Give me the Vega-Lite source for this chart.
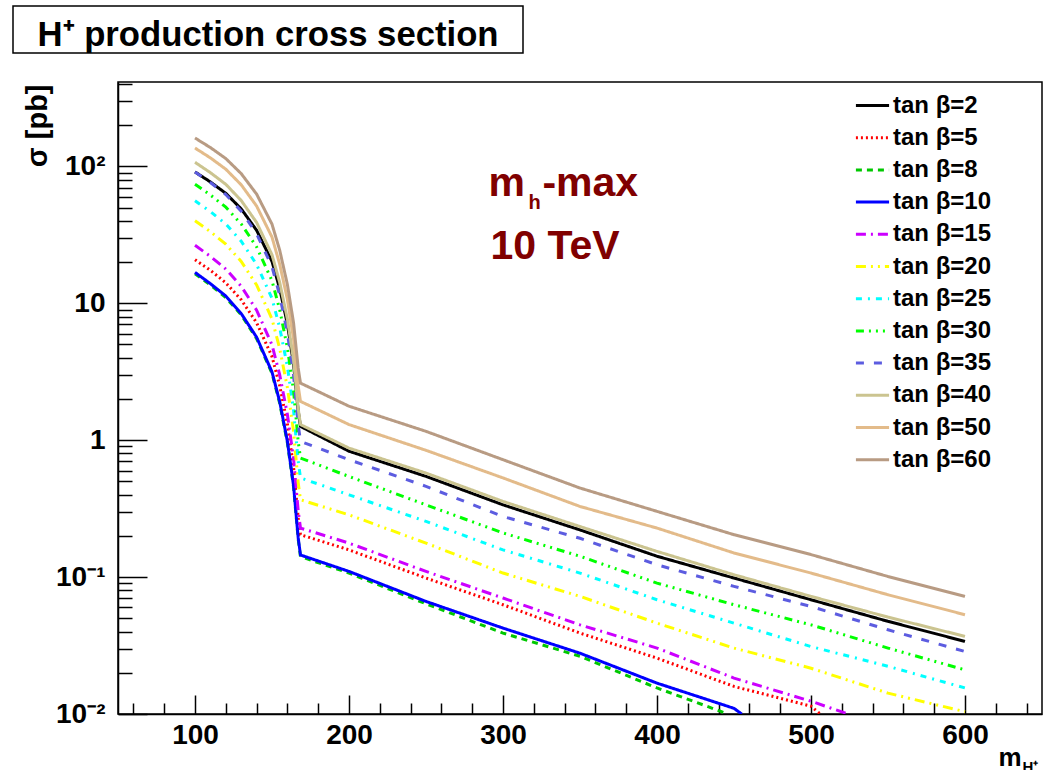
{
  "$schema": "https://vega.github.io/schema/vega-lite/v6.json",
  "padding": {"left": 12, "top": 5, "right": 0, "bottom": 0},
  "background": "white",
  "spacing": 27,
  "columns": 1,
  "resolve": {"legend": {"color": "independent", "strokeDash": "independent"}},
  "config": {
    "view": {"stroke": "black", "strokeWidth": 1.5},
    "font": "Liberation Sans"
  },
  "datasets": {
    "curves": [
      {"s":"tan β=2","m":100,"v":91},{"s":"tan β=2","m":110,"v":76.9},{"s":"tan β=2","m":120,"v":63.5},{"s":"tan β=2","m":130,"v":48.9},{"s":"tan β=2","m":140,"v":34.1},{"s":"tan β=2","m":150,"v":20.2},{"s":"tan β=2","m":155,"v":12.8},{"s":"tan β=2","m":160,"v":7.05},{"s":"tan β=2","m":164,"v":3.61},{"s":"tan β=2","m":167,"v":1.64},{"s":"tan β=2","m":168.5,"v":1.26},{"s":"tan β=2","m":200,"v":0.83},{"s":"tan β=2","m":250,"v":0.544},{"s":"tan β=2","m":300,"v":0.337},{"s":"tan β=2","m":350,"v":0.221},{"s":"tan β=2","m":400,"v":0.142},{"s":"tan β=2","m":450,"v":0.0984},{"s":"tan β=2","m":500,"v":0.0683},{"s":"tan β=2","m":550,"v":0.0475},{"s":"tan β=2","m":600,"v":0.0339},
      {"s":"tan β=5","m":100,"v":20.8},{"s":"tan β=5","m":110,"v":17.4},{"s":"tan β=5","m":120,"v":14.1},{"s":"tan β=5","m":130,"v":10.6},{"s":"tan β=5","m":140,"v":7.21},{"s":"tan β=5","m":150,"v":4.08},{"s":"tan β=5","m":155,"v":2.5},{"s":"tan β=5","m":160,"v":1.31},{"s":"tan β=5","m":164,"v":0.637},{"s":"tan β=5","m":167,"v":0.271},{"s":"tan β=5","m":168.5,"v":0.204},{"s":"tan β=5","m":200,"v":0.158},{"s":"tan β=5","m":250,"v":0.0984},{"s":"tan β=5","m":300,"v":0.0628},{"s":"tan β=5","m":350,"v":0.039},{"s":"tan β=5","m":400,"v":0.0256},{"s":"tan β=5","m":450,"v":0.0159},{"s":"tan β=5","m":500,"v":0.0114},{"s":"tan β=5","m":506,"v":0.01},
      {"s":"tan β=8","m":100,"v":16.4},{"s":"tan β=8","m":110,"v":13.6},{"s":"tan β=8","m":120,"v":11.0},{"s":"tan β=8","m":130,"v":8.22},{"s":"tan β=8","m":140,"v":5.52},{"s":"tan β=8","m":150,"v":3.08},{"s":"tan β=8","m":155,"v":1.86},{"s":"tan β=8","m":160,"v":0.955},{"s":"tan β=8","m":164,"v":0.454},{"s":"tan β=8","m":167,"v":0.189},{"s":"tan β=8","m":168.5,"v":0.141},{"s":"tan β=8","m":200,"v":0.107},{"s":"tan β=8","m":250,"v":0.0638},{"s":"tan β=8","m":300,"v":0.039},{"s":"tan β=8","m":350,"v":0.0264},{"s":"tan β=8","m":400,"v":0.0155},{"s":"tan β=8","m":446,"v":0.01},
      {"s":"tan β=10","m":100,"v":16.8},{"s":"tan β=10","m":110,"v":13.9},{"s":"tan β=10","m":120,"v":11.3},{"s":"tan β=10","m":130,"v":8.41},{"s":"tan β=10","m":140,"v":5.65},{"s":"tan β=10","m":150,"v":3.15},{"s":"tan β=10","m":155,"v":1.91},{"s":"tan β=10","m":160,"v":0.98},{"s":"tan β=10","m":164,"v":0.466},{"s":"tan β=10","m":167,"v":0.194},{"s":"tan β=10","m":168.5,"v":0.145},{"s":"tan β=10","m":200,"v":0.11},{"s":"tan β=10","m":250,"v":0.0664},{"s":"tan β=10","m":300,"v":0.0424},{"s":"tan β=10","m":350,"v":0.0278},{"s":"tan β=10","m":400,"v":0.0168},{"s":"tan β=10","m":450,"v":0.011},{"s":"tan β=10","m":455,"v":0.01},
      {"s":"tan β=15","m":100,"v":26.5},{"s":"tan β=15","m":110,"v":22.0},{"s":"tan β=15","m":120,"v":17.8},{"s":"tan β=15","m":130,"v":13.3},{"s":"tan β=15","m":140,"v":8.91},{"s":"tan β=15","m":150,"v":4.97},{"s":"tan β=15","m":155,"v":3.0},{"s":"tan β=15","m":160,"v":1.54},{"s":"tan β=15","m":164,"v":0.733},{"s":"tan β=15","m":167,"v":0.305},{"s":"tan β=15","m":168.5,"v":0.228},{"s":"tan β=15","m":200,"v":0.177},{"s":"tan β=15","m":250,"v":0.11},{"s":"tan β=15","m":300,"v":0.0703},{"s":"tan β=15","m":350,"v":0.0448},{"s":"tan β=15","m":400,"v":0.0303},{"s":"tan β=15","m":450,"v":0.0183},{"s":"tan β=15","m":500,"v":0.0124},{"s":"tan β=15","m":524,"v":0.01},
      {"s":"tan β=20","m":100,"v":40},{"s":"tan β=20","m":110,"v":33.3},{"s":"tan β=20","m":120,"v":27.0},{"s":"tan β=20","m":130,"v":20.2},{"s":"tan β=20","m":140,"v":13.6},{"s":"tan β=20","m":150,"v":7.67},{"s":"tan β=20","m":155,"v":4.67},{"s":"tan β=20","m":160,"v":2.42},{"s":"tan β=20","m":164,"v":1.16},{"s":"tan β=20","m":167,"v":0.49},{"s":"tan β=20","m":168.5,"v":0.367},{"s":"tan β=20","m":200,"v":0.285},{"s":"tan β=20","m":250,"v":0.177},{"s":"tan β=20","m":300,"v":0.107},{"s":"tan β=20","m":350,"v":0.0723},{"s":"tan β=20","m":400,"v":0.0461},{"s":"tan β=20","m":450,"v":0.0303},{"s":"tan β=20","m":500,"v":0.0216},{"s":"tan β=20","m":550,"v":0.0142},{"s":"tan β=20","m":600,"v":0.0104},
      {"s":"tan β=25","m":100,"v":56},{"s":"tan β=25","m":110,"v":46.7},{"s":"tan β=25","m":120,"v":37.9},{"s":"tan β=25","m":130,"v":28.4},{"s":"tan β=25","m":140,"v":19.2},{"s":"tan β=25","m":150,"v":10.85},{"s":"tan β=25","m":155,"v":6.62},{"s":"tan β=25","m":160,"v":3.45},{"s":"tan β=25","m":164,"v":1.66},{"s":"tan β=25","m":167,"v":0.705},{"s":"tan β=25","m":168.5,"v":0.53},{"s":"tan β=25","m":200,"v":0.399},{"s":"tan β=25","m":250,"v":0.255},{"s":"tan β=25","m":300,"v":0.158},{"s":"tan β=25","m":350,"v":0.107},{"s":"tan β=25","m":400,"v":0.0683},{"s":"tan β=25","m":450,"v":0.0461},{"s":"tan β=25","m":500,"v":0.0311},{"s":"tan β=25","m":550,"v":0.0223},{"s":"tan β=25","m":600,"v":0.0155},
      {"s":"tan β=30","m":100,"v":74},{"s":"tan β=30","m":110,"v":61.8},{"s":"tan β=30","m":120,"v":50.3},{"s":"tan β=30","m":130,"v":37.9},{"s":"tan β=30","m":140,"v":25.8},{"s":"tan β=30","m":150,"v":14.6},{"s":"tan β=30","m":155,"v":8.97},{"s":"tan β=30","m":160,"v":4.72},{"s":"tan β=30","m":164,"v":2.3},{"s":"tan β=30","m":167,"v":0.98},{"s":"tan β=30","m":168.5,"v":0.74},{"s":"tan β=30","m":200,"v":0.543},{"s":"tan β=30","m":250,"v":0.337},{"s":"tan β=30","m":300,"v":0.21},{"s":"tan β=30","m":350,"v":0.142},{"s":"tan β=30","m":400,"v":0.0904},{"s":"tan β=30","m":450,"v":0.0628},{"s":"tan β=30","m":500,"v":0.0448},{"s":"tan β=30","m":550,"v":0.0303},{"s":"tan β=30","m":600,"v":0.021},
      {"s":"tan β=35","m":100,"v":91},{"s":"tan β=35","m":110,"v":76.2},{"s":"tan β=35","m":120,"v":62.2},{"s":"tan β=35","m":130,"v":47.1},{"s":"tan β=35","m":140,"v":32.2},{"s":"tan β=35","m":150,"v":18.5},{"s":"tan β=35","m":155,"v":11.4},{"s":"tan β=35","m":160,"v":6.07},{"s":"tan β=35","m":164,"v":2.99},{"s":"tan β=35","m":167,"v":1.3},{"s":"tan β=35","m":168.5,"v":0.98},{"s":"tan β=35","m":200,"v":0.72},{"s":"tan β=35","m":250,"v":0.46},{"s":"tan β=35","m":300,"v":0.277},{"s":"tan β=35","m":350,"v":0.192},{"s":"tan β=35","m":400,"v":0.123},{"s":"tan β=35","m":450,"v":0.0855},{"s":"tan β=35","m":500,"v":0.061},{"s":"tan β=35","m":550,"v":0.0412},{"s":"tan β=35","m":600,"v":0.0286},
      {"s":"tan β=40","m":100,"v":107},{"s":"tan β=40","m":110,"v":89.9},{"s":"tan β=40","m":120,"v":73.9},{"s":"tan β=40","m":130,"v":56.3},{"s":"tan β=40","m":140,"v":38.9},{"s":"tan β=40","m":150,"v":22.6},{"s":"tan β=40","m":155,"v":14.2},{"s":"tan β=40","m":160,"v":7.66},{"s":"tan β=40","m":164,"v":3.84},{"s":"tan β=40","m":167,"v":1.7},{"s":"tan β=40","m":168.5,"v":1.3},{"s":"tan β=40","m":200,"v":0.875},{"s":"tan β=40","m":250,"v":0.575},{"s":"tan β=40","m":300,"v":0.357},{"s":"tan β=40","m":350,"v":0.234},{"s":"tan β=40","m":400,"v":0.154},{"s":"tan β=40","m":450,"v":0.104},{"s":"tan β=40","m":500,"v":0.0723},{"s":"tan β=40","m":550,"v":0.051},{"s":"tan β=40","m":600,"v":0.0369},
      {"s":"tan β=50","m":100,"v":136},{"s":"tan β=50","m":110,"v":115.3},{"s":"tan β=50","m":120,"v":95.3},{"s":"tan β=50","m":130,"v":73.3},{"s":"tan β=50","m":140,"v":51.3},{"s":"tan β=50","m":150,"v":30.4},{"s":"tan β=50","m":155,"v":19.3},{"s":"tan β=50","m":160,"v":10.67},{"s":"tan β=50","m":164,"v":5.47},{"s":"tan β=50","m":167,"v":2.49},{"s":"tan β=50","m":168.5,"v":1.92},{"s":"tan β=50","m":200,"v":1.3},{"s":"tan β=50","m":250,"v":0.843},{"s":"tan β=50","m":300,"v":0.53},{"s":"tan β=50","m":350,"v":0.328},{"s":"tan β=50","m":400,"v":0.228},{"s":"tan β=50","m":450,"v":0.15},{"s":"tan β=50","m":500,"v":0.107},{"s":"tan β=50","m":550,"v":0.0743},{"s":"tan β=50","m":600,"v":0.0531},
      {"s":"tan β=60","m":100,"v":161},{"s":"tan β=60","m":110,"v":137.1},{"s":"tan β=60","m":120,"v":114.0},{"s":"tan β=60","m":130,"v":88.5},{"s":"tan β=60","m":140,"v":62.7},{"s":"tan β=60","m":150,"v":37.8},{"s":"tan β=60","m":155,"v":24.4},{"s":"tan β=60","m":160,"v":13.7},{"s":"tan β=60","m":164,"v":7.19},{"s":"tan β=60","m":167,"v":3.37},{"s":"tan β=60","m":168.5,"v":2.61},{"s":"tan β=60","m":200,"v":1.77},{"s":"tan β=60","m":250,"v":1.16},{"s":"tan β=60","m":300,"v":0.72},{"s":"tan β=60","m":350,"v":0.447},{"s":"tan β=60","m":400,"v":0.302},{"s":"tan β=60","m":450,"v":0.204},{"s":"tan β=60","m":500,"v":0.146},{"s":"tan β=60","m":550,"v":0.101},{"s":"tan β=60","m":600,"v":0.0723}
    ],
    "bigtext": [
      {"m": 290.6, "v": 60.7, "t": "m"},
      {"m": 325.6, "v": 60.7, "t": "-max"},
      {"m": 291.9, "v": 21.0, "t": "10 TeV"}
    ],
    "subtext": [
      {"m": 316.6, "v": 48.7, "t": "h"}
    ],
    "axsub": [
      {"m": 637.3, "v": 0.00377, "t": "H⁺"}
    ],
    "titletext": [
      {"t": "H⁺ production cross section"}
    ]
  },
  "concat": [
    {
      "width": 405,
      "height": 47,
      "view": {"stroke": null},
      "data": {"name": "titletext"},
      "layer": [
        {
          "mark": {"type": "rect", "fill": "white", "stroke": "black", "strokeWidth": 1.5},
          "encoding": {
            "x": {"datum": 0, "type": "quantitative", "scale": {"domain": [0, 1], "range": [-105, 405]}, "axis": null},
            "x2": {"datum": 1},
            "y": {"datum": 0, "type": "quantitative", "scale": {"domain": [0, 1]}, "axis": null},
            "y2": {"datum": 1}
          }
        },
        {
          "mark": {"type": "text", "font": "Liberation Sans", "fontWeight": "bold", "fontSize": 34.7, "align": "center", "baseline": "middle", "color": "black", "dy": 6},
          "encoding": {
            "x": {"datum": 0.5, "type": "quantitative", "scale": {"domain": [0, 1], "range": [-105, 405]}, "axis": null},
            "y": {"datum": 0.5, "type": "quantitative", "scale": {"domain": [0, 1]}, "axis": null},
            "text": {"field": "t"}
          }
        }
      ]
    },
    {
      "width": 924,
      "height": 632,
      "resolve": {"axis": {"x": "independent", "y": "independent"}},
      "layer": [
        {
          "data": {"name": "curves"},
          "mark": {"type": "line", "clip": true, "strokeWidth": 3},
          "encoding": {
            "x": {
              "field": "m", "type": "quantitative",
              "scale": {"domain": [50, 650], "nice": false, "zero": false},
              "axis": {
                "orient": "bottom", "offset": 0,
                "title": "m",
                "values": [100,200,300,400,500,600],
                "format": "d",
                "tickSize": -19,
                "tickColor": "black", "tickWidth": 1.5,
                "domainColor": "black", "domainWidth": 1.5,
                "grid": false,
                "labelFont": "Liberation Sans", "labelFontWeight": "bold", "labelFontSize": 28, "labelColor": "black",
                "labelPadding": 26, "labelFlush": false, "labelOverlap": false,
                "titleFont": "Liberation Sans", "titleFontWeight": "bold", "titleFontSize": 26, "titleColor": "black",
                "titleX": 880, "titleY": 51, "titleAlign": "left", "titleBaseline": "alphabetic"
              }
            },
            "y": {
              "field": "v", "type": "quantitative",
              "scale": {"type": "log", "domain": [0.01, 413], "nice": false},
              "axis": {
                "orient": "left", "offset": 0,
                "title": "σ [pb]",
                "values": [0.01, 0.1, 1, 10, 100],
                "labelExpr": "datum.value === 100 ? '10²' : datum.value === 10 ? '10' : datum.value === 1 ? '1' : datum.value === 0.1 ? '10⁻¹' : '10⁻²'",
                "tickSize": -29,
                "tickColor": "black", "tickWidth": 1.5,
                "domainColor": "black", "domainWidth": 1.5,
                "grid": false,
                "labelFont": "Liberation Sans", "labelFontWeight": "bold", "labelFontSize": 28, "labelColor": "black",
                "labelPadding": 42, "labelFlush": false, "labelOverlap": false,
                "titleFont": "Liberation Sans", "titleFontWeight": "bold", "titleFontSize": 29, "titleColor": "black",
                "titleAngle": -90, "titleX": -81, "titleY": 2, "titleAlign": "right", "titleBaseline": "middle"
              }
            },
            "color": {
              "field": "s", "type": "nominal",
              "scale": {
                "domain": ["tan β=2","tan β=5","tan β=8","tan β=10","tan β=15","tan β=20","tan β=25","tan β=30","tan β=35","tan β=40","tan β=50","tan β=60"],
                "range": ["#000000","#ff0000","#00c800","#0000ff","#cc00ff","#ffff00","#00ffff","#00ff00","#5c5ce0","#cbc490","#e3bb8a","#b89b83"]
              },
              "legend": {
                "orient": "none", "legendX": 736, "legendY": 5, "title": null,
                "symbolType": "stroke", "symbolSize": 1100, "symbolStrokeWidth": 3,
                "labelFont": "Liberation Sans", "labelFontWeight": "bold", "labelFontSize": 24, "labelColor": "black",
                "rowPadding": 1.2, "labelOffset": 2, "padding": 0
              }
            },
            "strokeDash": {
              "field": "s", "type": "nominal",
              "scale": {
                "domain": ["tan β=2","tan β=5","tan β=8","tan β=10","tan β=15","tan β=20","tan β=25","tan β=30","tan β=35","tan β=40","tan β=50","tan β=60"],
                "range": [[1,0],[2,3],[6,5],[1,0],[10,5,2,5],[10,5,2,5,2,5],[6,6,2,6],[8,5,2,5,2,5,2,5],[8,10],[1,0],[1,0],[1,0]]
              },
              "legend": {
                "orient": "none", "legendX": 736, "legendY": 5, "title": null,
                "symbolType": "stroke", "symbolSize": 1100, "symbolStrokeWidth": 3,
                "labelFont": "Liberation Sans", "labelFontWeight": "bold", "labelFontSize": 24, "labelColor": "black",
                "rowPadding": 1.2, "labelOffset": 2, "padding": 0
              }
            }
          }
        },
        {
          "data": {"name": "bigtext"},
          "mark": {"type": "text", "align": "left", "baseline": "alphabetic", "font": "Liberation Sans", "fontWeight": "bold", "fontSize": 41, "color": "#800000"},
          "encoding": {
            "x": {
              "field": "m", "type": "quantitative",
              "scale": {"domain": [50, 650], "nice": false, "zero": false},
              "axis": {
                "orient": "bottom", "offset": 0, "title": null,
                "values": [60,80,120,140,160,180,220,240,260,280,320,340,360,380,420,440,460,480,520,540,560,580,620,640],
                "labels": false, "domain": false, "grid": false,
                "tickSize": -11, "tickColor": "black", "tickWidth": 1.5
              }
            },
            "y": {
              "field": "v", "type": "quantitative",
              "scale": {"type": "log", "domain": [0.01, 413], "nice": false},
              "axis": {
                "orient": "left", "offset": 0, "title": null,
                "values": [0.02,0.03,0.04,0.05,0.06,0.07,0.08,0.09,0.2,0.3,0.4,0.5,0.6,0.7,0.8,0.9,2,3,4,5,6,7,8,9,20,30,40,50,60,70,80,90,200,300,400],
                "labels": false, "domain": false, "grid": false,
                "tickSize": -14, "tickColor": "black", "tickWidth": 1.5
              }
            },
            "text": {"field": "t"}
          }
        },
        {
          "data": {"name": "subtext"},
          "mark": {"type": "text", "align": "left", "baseline": "alphabetic", "font": "Liberation Sans", "fontWeight": "bold", "fontSize": 20, "color": "#800000"},
          "encoding": {
            "x": {"field": "m", "type": "quantitative", "scale": {"domain": [50, 650], "nice": false, "zero": false}, "axis": null},
            "y": {"field": "v", "type": "quantitative", "scale": {"type": "log", "domain": [0.01, 413], "nice": false}, "axis": null},
            "text": {"field": "t"}
          }
        },
        {
          "data": {"name": "axsub"},
          "mark": {"type": "text", "align": "left", "baseline": "alphabetic", "font": "Liberation Sans", "fontWeight": "bold", "fontSize": 15, "color": "black"},
          "encoding": {
            "x": {"field": "m", "type": "quantitative", "scale": {"domain": [50, 650], "nice": false, "zero": false}, "axis": null},
            "y": {"field": "v", "type": "quantitative", "scale": {"type": "log", "domain": [0.01, 413], "nice": false}, "axis": null},
            "text": {"field": "t"}
          }
        }
      ]
    }
  ]
}
